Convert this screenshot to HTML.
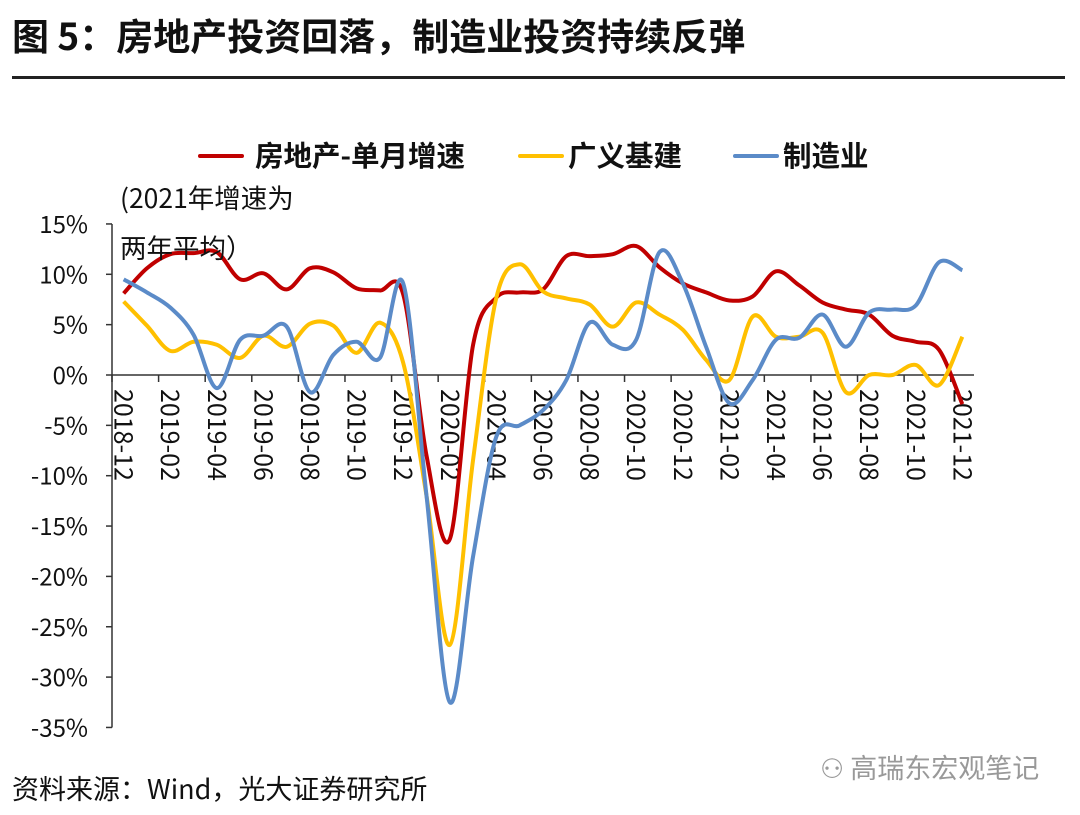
<!DOCTYPE html>
<html><head><meta charset="utf-8">
<style>
body{margin:0;width:1080px;height:815px;background:#fff;overflow:hidden;font-family:"Liberation Sans","Noto Sans CJK SC",sans-serif;}
#title{position:absolute;left:12px;top:9px;font-family:"Noto Sans CJK SC",sans-serif;font-size:37px;line-height:50px;font-weight:bold;color:#111;white-space:nowrap}
#rule{position:absolute;left:12px;top:76px;width:1053px;height:3px;background:#222}
#foot{position:absolute;left:12px;top:770px;font-family:"Noto Sans CJK SC",sans-serif;font-size:27px;line-height:36px;color:#111;white-space:nowrap}
#wm{position:absolute;left:820px;top:749px;font-family:"Noto Sans CJK SC",sans-serif;font-size:27px;line-height:36px;color:#999;white-space:nowrap}
</style></head><body>
<div id="title">图 5：房地产投资回落，制造业投资持续反弹</div>
<div id="rule"></div>
<svg id="chart" width="1080" height="815" style="position:absolute;left:0;top:0"></svg>
<div id="wm">⚇ 高瑞东宏观笔记</div>
<div id="foot">资料来源：Wind，光大证券研究所</div>
<script>
const categories=[];
for(let y=2018,m=12,i=0;i<37;i++){categories.push(y+'-'+String(m).padStart(2,'0'));m++;if(m>12){m=1;y++;}}
const realEstate=[8.1,10.6,12.0,12.1,12.2,9.5,10.1,8.5,10.6,10.2,8.6,8.4,8.0,-8,-16.3,3,7.7,8.2,8.5,11.8,11.8,12.0,12.8,10.7,9.1,8.2,7.4,7.8,10.3,8.9,7.2,6.5,6.0,3.9,3.3,2.5,-2.9];
const infra=[7.3,4.9,2.4,3.3,3.0,1.7,3.9,2.8,5.1,4.9,2.2,5.2,1.2,-12,-26.8,-8.4,7.7,11.0,8.3,7.6,7.0,4.8,7.2,6.0,4.5,1.5,-0.5,5.8,3.8,3.8,4.2,-1.7,0,0,1.0,-1.0,3.8];
const manuf=[9.5,8.2,6.7,4.0,-1.3,3.5,3.9,4.8,-1.7,2.0,3.3,1.7,9.1,-12,-32.5,-18,-6.1,-5,-3.5,-0.5,5.2,3.0,3.5,12.2,9.1,2.8,-2.8,-0.5,3.5,3.7,6.0,2.8,6.2,6.5,6.9,11.2,10.4];
const yTicks=[15,10,5,0,-5,-10,-15,-20,-25,-30,-35];
const seriesNames=['房地产-单月增速','广义基建','制造业'];
const colors=['#C00000','#FFC000','#5B8BC8'];
const NS='http://www.w3.org/2000/svg';
const FONT='Noto Sans CJK SC, sans-serif';
const svg=document.getElementById('chart');
const x0=112,x1=974,cw=(x1-x0)/categories.length;
const yScale=v=>375-v*10.07;
const xScale=i=>x0+cw*(i+0.5);
function mk(t,a,p){const e=document.createElementNS(NS,t);for(const k in a)e.setAttribute(k,a[k]);(p||svg).appendChild(e);return e;}
mk('line',{x1:x0,y1:yScale(15),x2:x0,y2:yScale(-35),stroke:'#333','stroke-width':1.5});
yTicks.forEach(v=>{
 const t=mk('text',{x:88,y:yScale(v)+9,'text-anchor':'end','font-size':24,fill:'#111','font-family':FONT});
 
 
 t.textContent=v+'%';
 mk('line',{x1:x0-6,y1:yScale(v),x2:x0,y2:yScale(v),stroke:'#333','stroke-width':1.5});
});
mk('line',{x1:x0,y1:yScale(0),x2:x1,y2:yScale(0),stroke:'#333','stroke-width':1.5});
for(let i=0;i<=categories.length;i+=2){mk('line',{x1:x0+cw*i,y1:yScale(0),x2:x0+cw*i,y2:yScale(0)+7,stroke:'#333','stroke-width':1.5});}
categories.forEach((c,i)=>{
 if(i%2)return;
 const x=xScale(i)-9,y=389;
 const t=mk('text',{x:x,y:y,transform:'rotate(90 '+x+' '+y+')','font-size':25,fill:'#111','font-family':FONT});
 
 
 t.textContent=c;
});
function path(vals){
 const p=vals.map((v,i)=>[xScale(i),yScale(v)]);
 let d='M'+p[0][0]+','+p[0][1];
 for(let i=0;i<p.length-1;i++){
  const a=p[Math.max(i-1,0)],b=p[i],c=p[i+1],e=p[Math.min(i+2,p.length-1)];
  const c1=[b[0]+(c[0]-a[0])/6,b[1]+(c[1]-a[1])/6],c2=[c[0]-(e[0]-b[0])/6,c[1]-(e[1]-b[1])/6];
  d+=' C'+c1[0]+','+c1[1]+' '+c2[0]+','+c2[1]+' '+c[0]+','+c[1];
 }
 return d;
}
[realEstate,infra,manuf].forEach((s,k)=>{
 const l=mk('path',{d:path(s),fill:'none',stroke:colors[k],'stroke-width':4,'stroke-linejoin':'round'});
 
 
});
const lg=[[200,255],[520,568],[735,783]];
lg.forEach((p,k)=>{
 const g=mk('g',{});
 
 
 mk('line',{x1:p[0],y1:156,x2:p[0]+42,y2:156,stroke:colors[k],'stroke-width':4,'stroke-linecap':'round'},g);
 const t=mk('text',{x:p[1],y:166,'font-size':28.5,'font-weight':'bold',fill:'#111','font-family':FONT},g);
 t.textContent=seriesNames[k];
});
const a1=mk('text',{x:120,y:208,'font-size':26.5,fill:'#111','font-family':FONT});


a1.textContent='(2021年增速为';
const a2=mk('text',{x:120,y:258,'font-size':26.5,fill:'#111','font-family':FONT});


a2.textContent='两年平均）';
</script>
</body></html>
